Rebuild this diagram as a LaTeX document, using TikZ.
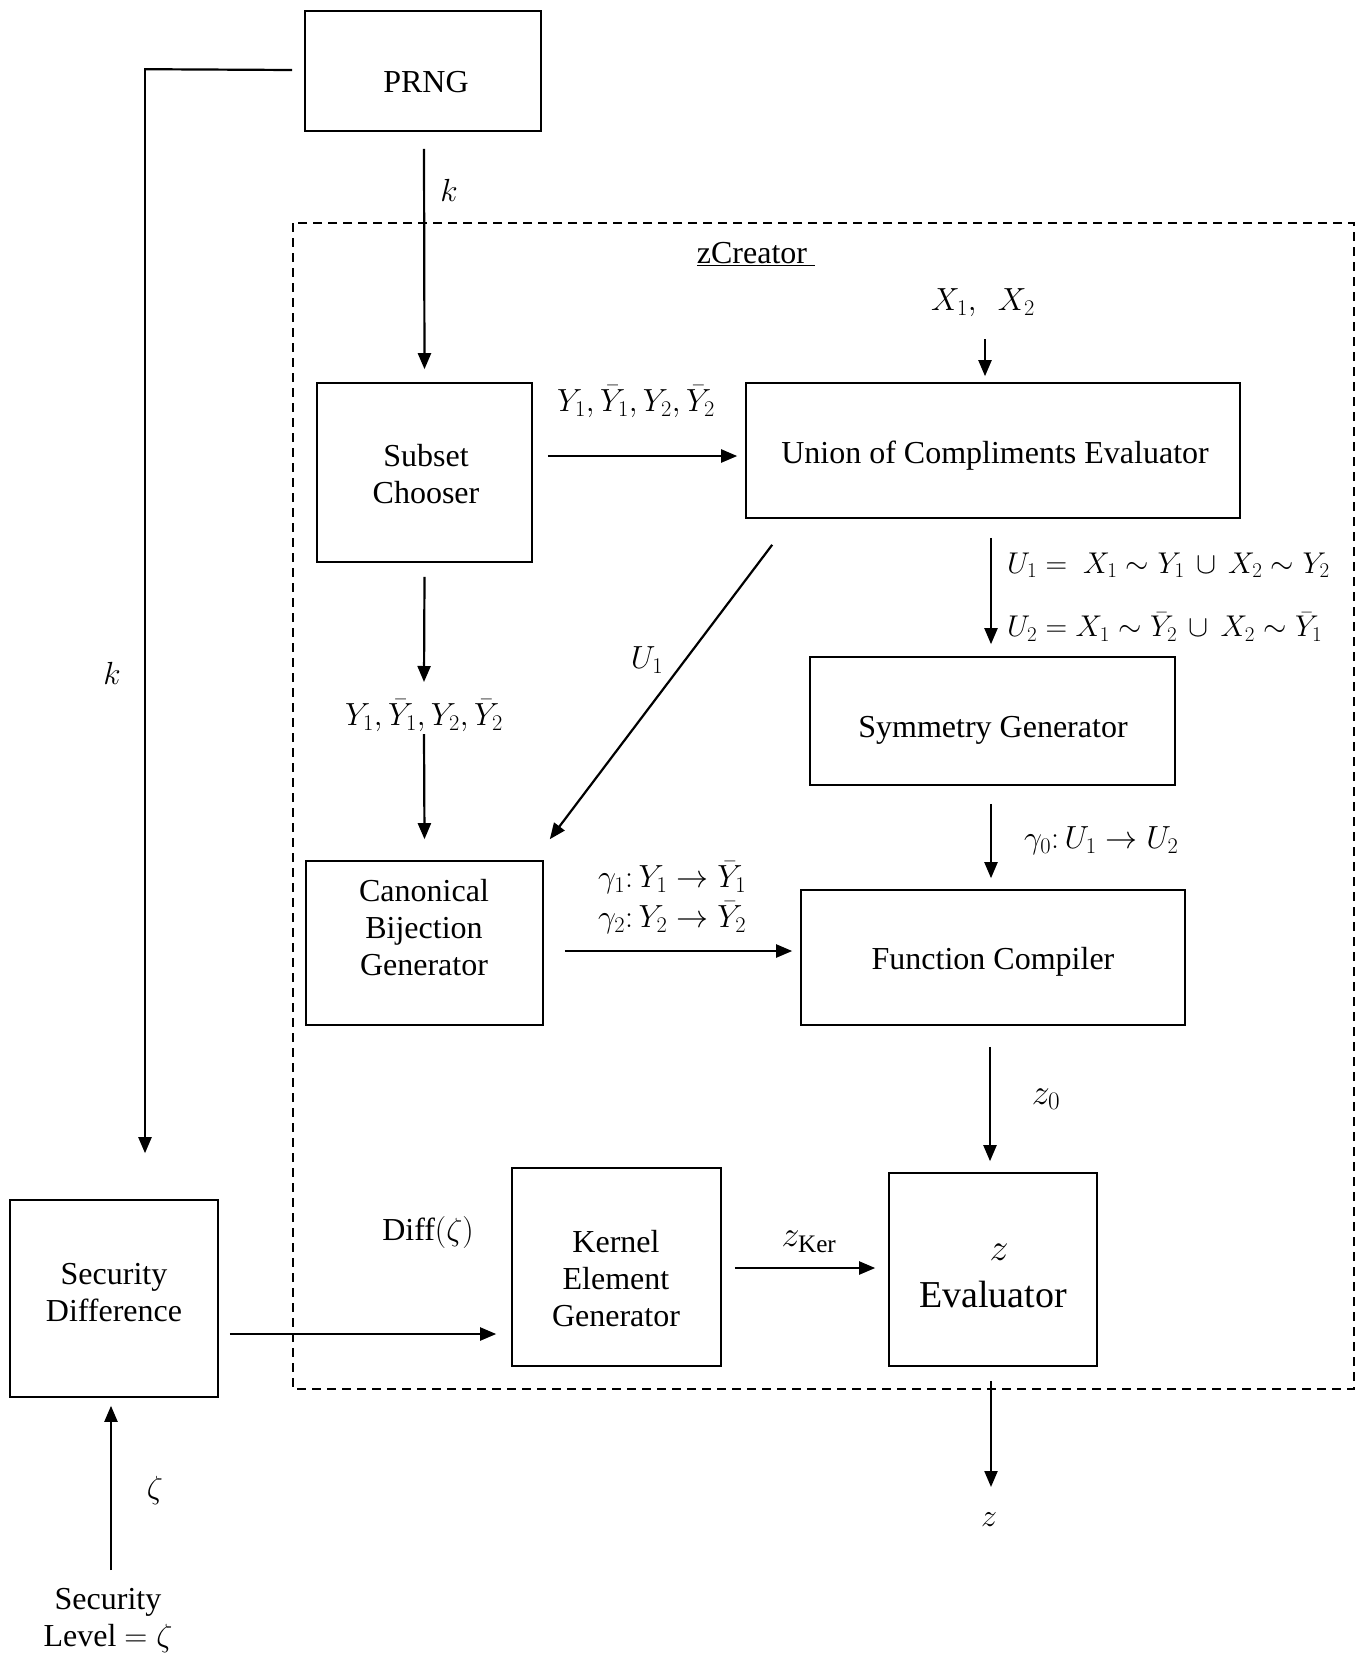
\RequirePackage{fix-cm}
\documentclass[tikz,border=0pt]{standalone}
\usepackage{fontspec}
\setmainfont{Liberation Serif}
\usetikzlibrary{arrows.meta,calc}
\begin{document}
\begin{tikzpicture}[x=1pt,y=-1pt,
  box/.style={draw,line width=1.6pt,inner sep=0pt},
  arr/.style={line width=2.2pt,-{Triangle[length=16pt,width=13pt]}},
  plain/.style={line width=2.2pt},
  lbl/.style={inner sep=0pt,align=center,font=\fontsize{32}{37}\selectfont},
  dashbox/.style={draw,line width=1.4pt,dash pattern=on 9pt off 6pt}]
\useasboundingbox (0,0) rectangle (1360,1657);
% dashed container
\draw[dashbox] (293,223) rectangle (1354,1389);
\node[lbl] (zc) at (756,254) {\underline{zCreator\ }};
% boxes
\node[box,minimum width=236pt,minimum height=120pt] (prng) at (423,71) {};
\node[lbl] (prngt) at (426,82) {PRNG};
\node[box,minimum width=215pt,minimum height=179pt] (subset) at (424.5,472.5) {};
\node[lbl] (subsett) at (426,474) {Subset\\Chooser};
\node[box,minimum width=494pt,minimum height=135pt] (union) at (993,450.5) {};
\node[lbl] (uniont) at (995,456) {Union of Compliments Evaluator};
\node[box,minimum width=365pt,minimum height=128pt] (sym) at (992.5,721) {};
\node[lbl] (symt) at (993,730) {Symmetry Generator};
\node[box,minimum width=237pt,minimum height=164pt] (canon) at (424.5,943) {};
\node[lbl] (canont) at (424,928) {Canonical\\Bijection\\Generator};
\node[box,minimum width=384pt,minimum height=135pt] (fc) at (993,957.5) {};
\node[lbl] (fct) at (993,962) {Function Compiler};
\node[box,minimum width=209pt,minimum height=198pt] (kernel) at (616.5,1267) {};
\node[lbl] (kernelt) at (616,1279) {Kernel\\Element\\Generator};
\node[box,minimum width=208pt,minimum height=193pt] (zev) at (993,1269.5) {};
\node[lbl,font=\fontsize{38}{43}\selectfont] (zevz) at (999,1252) {$z$};
\node[lbl,font=\fontsize{38}{43}\selectfont] (zevt) at (993,1294) {Evaluator};
\node[box,minimum width=208pt,minimum height=197pt] (sd) at (114,1298.5) {};
\node[lbl] (sdt) at (114,1293) {Security\\Difference};
% labels
\node[lbl] (x12) at (983,303) {$X_1,\ \ X_2$};
\node[lbl] (ylab) at (424,716) {$Y_1,\bar{Y}_1,Y_2,\bar{Y}_2$};
\node[lbl] (zout) at (989,1520) {$z$};
\node[lbl] (sec) at (108,1620) {Security\\Level $=\zeta$};
\node[lbl] (k1) at (449,190) {$k$};
\node[lbl] (k2) at (112,673) {$k$};
\node[lbl] (ytop) at (636,402) {$Y_1,\bar{Y}_1,Y_2,\bar{Y}_2$};
\node[lbl,anchor=west,font=\fontsize{30}{36}\selectfont] (u1) at (1007,565) {$U_1 =\ X_1 \sim Y_1 \,\cup\, X_2 \sim Y_2$};
\node[lbl,anchor=west,font=\fontsize{30}{36}\selectfont] (u2) at (1007,627) {$U_2 = X_1 \sim \bar{Y}_2 \,\cup\, X_2 \sim \bar{Y}_1$};
\node[lbl] (u1d) at (647,660) {$U_1$};
\node[lbl,anchor=west] (g0) at (1024,841) {$\gamma_0\colon U_1 \rightarrow U_2$};
\node[lbl,anchor=west] (g1) at (598,878) {$\gamma_1\colon Y_1 \rightarrow \bar{Y}_1$};
\node[lbl,anchor=west] (g2) at (598,918) {$\gamma_2\colon Y_2 \rightarrow \bar{Y}_2$};
\node[lbl,font=\fontsize{36}{40}\selectfont] (z0) at (1046,1099) {$z_0$};
\node[lbl,font=\fontsize{36}{40}\selectfont] (zk) at (809,1242) {$z_{\mathrm{Ker}}$};
\node[lbl] (diff) at (428,1232) {Diff$(\zeta)$};
\node[lbl] (zeta) at (155,1490) {$\zeta$};
% connectors
\draw[plain] ($(prng.west)+(-12,-1)$) -- ($(sd.north)+(31,-1130)$);
\draw[arr] ($(sd.north)+(31,-1131)$) -- ($(sd.north)+(31,-46)$);
\draw[arr] ($(prng.south)+(1,17)$) -- ($(subset.north)+(0,-13)$);
\draw[arr] ($(subset.east)+(15,-16.5)$) -- ($(union.west)+(-8,5.5)$);
\draw[arr] ($(x12.south)+(2,22)$) -- ($(union.north)+(-8,-6)$);
\draw[arr] ($(union.south)+(-2,19)$) -- ($(sym.north)+(-1.5,-12)$);
\draw[arr] ($(sym.south)+(-1.5,18)$) -- ($(fc.north)+(-2,-11)$);
\draw[arr] ($(fc.south)+(-3,21)$) -- ($(zev.north)+(-3,-11)$);
\draw[arr] ($(zev.south)+(-2,14)$) -- ($(zout.center)+(2,-33)$);
\draw[arr] ($(union.south west)+(27,26)$) -- ($(canon.north east)+(6,-21)$);
\draw[arr] ($(subset.south)+(0,14)$) -- ($(ylab.center)+(0,-34)$);
\draw[arr] ($(ylab.center)+(0,18)$) -- ($(canon.north)+(0,-21)$);
\draw[arr] ($(canon.east)+(21,8)$) -- ($(fc.west)+(-8,-6.5)$);
\draw[arr] ($(sd.east)+(11,35.5)$) -- ($(kernel.west)+(-15,67)$);
\draw[arr] ($(kernel.east)+(13,1)$) -- ($(zev.west)+(-13,-1.5)$);
\draw[arr] ($(sec.center)+(3,-50)$) -- ($(sd.south)+(-3,8)$);
\end{tikzpicture}
\end{document}
